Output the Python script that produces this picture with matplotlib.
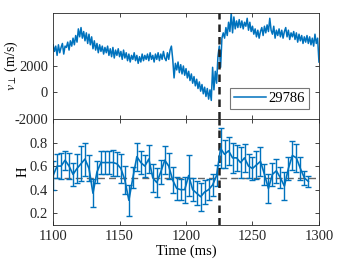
import matplotlib
matplotlib.use("Agg")
import matplotlib.pyplot as plt
import numpy as np

# ---- data ----
t_start = 1100  # ms, velocity sampled every 1 ms
v_perp = [3600, 3100, 3500, 2800, 3600, 3000, 3400, 3700, 2900, 3500,
          3400, 3800, 3200, 3900, 3500, 4100, 3600, 4300, 3800, 4800,
          4200, 4900, 4100, 4600, 3900, 4500, 3700, 4400, 3600, 4200,
          3300, 3900, 3200, 3700, 3000, 3600, 3100, 3500, 2900, 3400,
          3000, 3500, 2800, 3300, 2700, 3400, 2600, 3200, 2800, 3300,
          2700, 3100, 2500, 3200, 2600, 3000, 2400, 2900, 2300, 2800,
          2500, 3000, 2400, 2800, 2200, 2700, 2300, 2900, 2400, 2800,
          2500, 2900, 2400, 3000, 2500, 2800, 2300, 2900, 2500, 3000,
          2400, 2900, 2500, 3100, 2600, 2400, 3000, 2500, 3200, 3500,
          2500, 1100, 2200, 1700, 2300, 1500, 2100, 1400, 2000, 1300,
          1800, 1100, 1600, 900, 1400, 700, 1200, 500, 1000, 300,
          800, 100, 600, -100, 400, -300, 300, -500, 200, -600,
          1900, 200, 1600, 700, 2700, 3500, 1900, 4100, 4500, 4100,
          4900, 4300, 5300, 4600, 6000, 4500, 5700, 4800, 5400, 4900,
          5500, 4900, 5400, 4800, 5300, 5000, 5600, 4700, 5300, 4600,
          5000, 4400, 4800, 4200, 4700, 4100, 4600, 4900, 4300, 5000,
          4500, 5100, 4600, 5600, 4700, 4400, 5000, 4100, 4700, 4300,
          4800, 4200, 4700, 4100, 4600, 4900, 4200, 4700, 4000, 4500,
          4200, 4600, 4000, 4500, 3800, 4400, 3900, 4300, 3700, 4200,
          3800, 4300, 3700, 4200, 3600, 4100, 3500, 4400, 3700, 4100, 2300]
t_v = np.arange(len(v_perp)) + t_start

H_time = list(range(1100, 1293, 3))
H_vals = [0.52, 0.60, 0.60, 0.65, 0.60, 0.53, 0.58, 0.62, 0.66, 0.58,
          0.37, 0.55, 0.63, 0.63, 0.63, 0.63, 0.62, 0.58, 0.48, 0.31,
          0.50, 0.68, 0.63, 0.60, 0.66, 0.50, 0.46, 0.55, 0.65, 0.60,
          0.48, 0.41, 0.40, 0.40, 0.52, 0.40, 0.37, 0.34, 0.38, 0.40,
          0.44, 0.52, 0.75, 0.70, 0.73, 0.67, 0.67, 0.63, 0.67, 0.60,
          0.58, 0.61, 0.64, 0.53, 0.41, 0.53, 0.56, 0.50, 0.43, 0.58,
          0.69, 0.67, 0.58, 0.50, 0.47]
H_err = [0.12, 0.10, 0.11, 0.08, 0.11, 0.10, 0.12, 0.15, 0.14, 0.11,
         0.12, 0.09, 0.10, 0.10, 0.10, 0.11, 0.10, 0.12, 0.12, 0.13,
         0.09, 0.12, 0.10, 0.09, 0.12, 0.12, 0.12, 0.10, 0.12, 0.11,
         0.11, 0.10, 0.09, 0.11, 0.17, 0.10, 0.10, 0.12, 0.10, 0.09,
         0.09, 0.09, 0.17, 0.12, 0.12, 0.13, 0.11, 0.13, 0.12, 0.10,
         0.10, 0.12, 0.12, 0.09, 0.12, 0.10, 0.10, 0.09, 0.12, 0.10,
         0.12, 0.12, 0.10, 0.06, 0.05]

event_time = 1225
ref_H = 0.5
legend_label = "29786"

# ---- style ----
plt.rcParams['font.family'] = ['Liberation Serif', 'DejaVu Serif']
plt.rcParams['mathtext.fontset'] = 'stix'
plt.rcParams['axes.unicode_minus'] = False
plt.rcParams['font.size'] = 10.5

blue = '#0072BD'
axcol = '#262626'

fig = plt.figure(figsize=(3.54, 2.65), dpi=100)
ax1 = fig.add_axes([0.150, 0.551, 0.751, 0.400])
ax2 = fig.add_axes([0.150, 0.151, 0.751, 0.400])

ax1.plot(t_v, v_perp, color=blue, lw=1.1, label=legend_label)
ax1.axvline(event_time, color='#222222', lw=1.8, ls=(0, (3, 2)))
ax1.set_xlim(1100, 1300)
ax1.set_ylim(-2000, 6000)
ax1.set_yticks([-2000, 0, 2000])
ax1.set_xticks([1150, 1200, 1250])
ax1.set_xticklabels([])
ax1.set_ylabel(r'$v_\perp$ (m/s)', fontsize=10)
ax1.yaxis.set_label_coords(-0.125, 0.5)
leg = ax1.legend(loc='lower right', frameon=True, fancybox=False,
                 handlelength=2.2, borderpad=0.25, handletextpad=0.2,
                 borderaxespad=0.7, fontsize=10.5)
leg.get_frame().set_edgecolor('#555555')
leg.get_frame().set_linewidth(0.8)

ax2.axhline(ref_H, color='#666666', lw=1.0, ls=(0, (5, 3)))
ax2.errorbar(H_time, H_vals, yerr=H_err, color=blue, lw=1.2,
             elinewidth=1.0, capsize=2.5, capthick=1.0)
ax2.axvline(event_time, color='#222222', lw=1.8, ls=(0, (3, 2)))
ax2.set_xlim(1100, 1300)
ax2.set_ylim(0.1, 1.0)
ax2.set_yticks([0.2, 0.4, 0.6, 0.8])
ax2.set_xticks([1100, 1150, 1200, 1250, 1300])
ax2.set_xlabel('Time (ms)', labelpad=1)
ax2.set_ylabel('H')
ax2.yaxis.set_label_coords(-0.088, 0.5)

for ax in (ax1, ax2):
    ax.tick_params(direction='in', top=True, right=True, length=3,
                   width=0.6, colors=axcol, labelcolor=axcol)
    for s in ax.spines.values():
        s.set_color(axcol)
        s.set_linewidth(0.6)

fig.savefig('out.png', dpi=100)
